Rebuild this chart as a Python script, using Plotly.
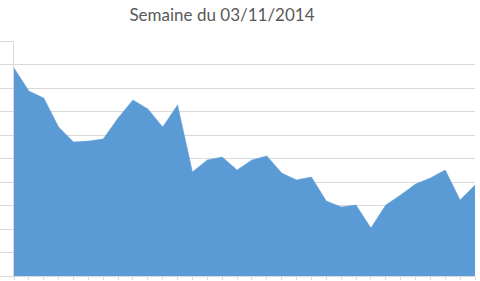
import plotly.graph_objects as go

title_text = "Semaine du 03/11/2014"
points = list(range(32))
values = [8.85, 7.87, 7.57, 6.34, 5.70, 5.74, 5.83, 6.72, 7.49, 7.11, 6.34, 7.28,
          4.43, 4.94, 5.06, 4.51, 4.94, 5.11, 4.38, 4.09, 4.21, 3.19, 2.94, 3.02,
          2.04, 3.02, 3.45, 3.91, 4.17, 4.51, 3.23, 3.87]
grid_vals = list(range(0, 11))

blue = "#5B9BD5"
grid = "#D9D9D9"

fig = go.Figure(go.Scatter(
    x=points, y=values, mode="lines", fill="tozeroy",
    fillcolor=blue, line=dict(color=blue, width=0.5), hoverinfo="skip"))

fig.update_layout(
    width=480, height=281,
    margin=dict(l=14, r=5, t=41, b=5, autoexpand=False),
    paper_bgcolor="white", plot_bgcolor="white",
    showlegend=False,
    title=dict(text=title_text, x=222 / 480, xanchor="center", y=1 - 15 / 281,
               yanchor="middle", font=dict(family="Lato", size=17, color="#595959")),
    xaxis=dict(range=[0, 31], tickvals=points, ticks="outside", ticklen=3,
               tickcolor=grid, tickwidth=1, showticklabels=False, showgrid=False,
               zeroline=False, showline=True, linecolor=grid, linewidth=1,
               automargin=False),
    yaxis=dict(range=[0, 10], tickvals=grid_vals, ticks="outside", ticklen=14,
               tickcolor=grid, tickwidth=1, showticklabels=False, showgrid=True,
               gridcolor=grid, gridwidth=1, zeroline=False, showline=True,
               linecolor=grid, linewidth=1, layer="below traces", automargin=False),
)

fig.write_html("out.html")
